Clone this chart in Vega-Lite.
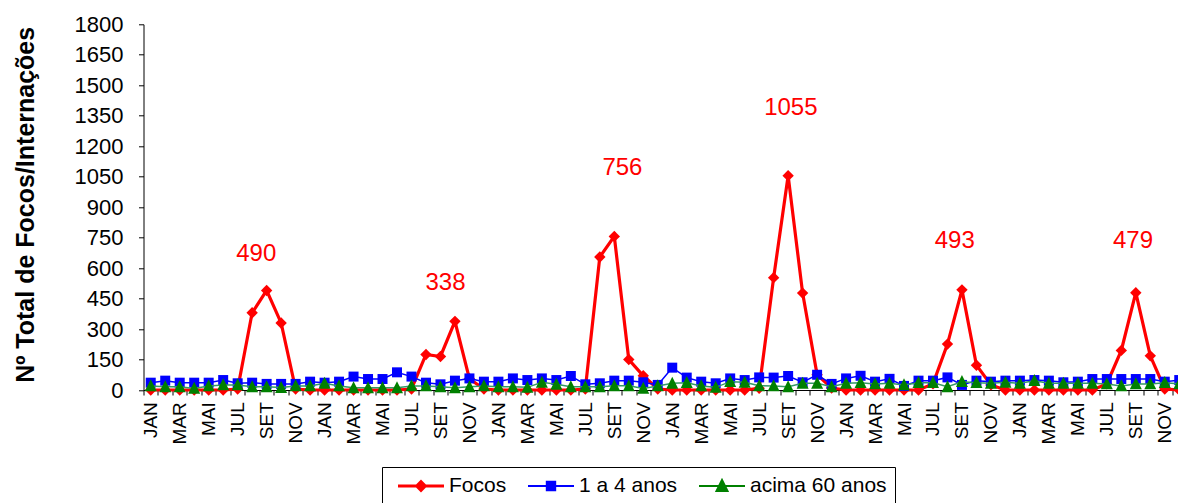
{
  "$schema": "https://vega.github.io/schema/vega-lite/v6.json",
  "width": 1034.5,
  "height": 365.7,
  "autosize": {"type": "none"},
  "padding": {"left": 143.5, "top": 24.3, "right": 0, "bottom": 113},
  "background": "white",
  "config": {
    "font": "Liberation Sans",
    "view": {"stroke": null},
    "axis": {"grid": false, "domainColor": "black", "tickColor": "black", "labelColor": "black", "titleColor": "black", "domainWidth": 1, "tickWidth": 1}
  },
  "datasets": {
    "mensal": [
      {"mes": "1-01-JAN", "Focos": 0, "1 a 4 anos": 36, "acima 60 anos": 20},
      {"mes": "1-02-FEV", "Focos": 0, "1 a 4 anos": 46, "acima 60 anos": 16},
      {"mes": "1-03-MAR", "Focos": 0, "1 a 4 anos": 36, "acima 60 anos": 16},
      {"mes": "1-04-ABR", "Focos": 0, "1 a 4 anos": 36, "acima 60 anos": 8},
      {"mes": "1-05-MAI", "Focos": 0, "1 a 4 anos": 36, "acima 60 anos": 20},
      {"mes": "1-06-JUN", "Focos": 0, "1 a 4 anos": 49, "acima 60 anos": 25},
      {"mes": "1-07-JUL", "Focos": 5, "1 a 4 anos": 33, "acima 60 anos": 25},
      {"mes": "1-08-AGO", "Focos": 380, "1 a 4 anos": 36, "acima 60 anos": 16},
      {"mes": "1-09-SET", "Focos": 490, "1 a 4 anos": 30, "acima 60 anos": 16},
      {"mes": "1-10-OUT", "Focos": 330, "1 a 4 anos": 30, "acima 60 anos": 12},
      {"mes": "1-11-NOV", "Focos": 5, "1 a 4 anos": 30, "acima 60 anos": 20},
      {"mes": "1-12-DEZ", "Focos": 0, "1 a 4 anos": 41, "acima 60 anos": 20},
      {"mes": "2-01-JAN", "Focos": 0, "1 a 4 anos": 36, "acima 60 anos": 33},
      {"mes": "2-02-FEV", "Focos": 0, "1 a 4 anos": 41, "acima 60 anos": 20},
      {"mes": "2-03-MAR", "Focos": 0, "1 a 4 anos": 66, "acima 60 anos": 11},
      {"mes": "2-04-ABR", "Focos": 0, "1 a 4 anos": 54, "acima 60 anos": 11},
      {"mes": "2-05-MAI", "Focos": 0, "1 a 4 anos": 54, "acima 60 anos": 11},
      {"mes": "2-06-JUN", "Focos": 0, "1 a 4 anos": 87, "acima 60 anos": 11},
      {"mes": "2-07-JUL", "Focos": 5, "1 a 4 anos": 66, "acima 60 anos": 20},
      {"mes": "2-08-AGO", "Focos": 175, "1 a 4 anos": 36, "acima 60 anos": 20},
      {"mes": "2-09-SET", "Focos": 165, "1 a 4 anos": 28, "acima 60 anos": 16},
      {"mes": "2-10-OUT", "Focos": 338, "1 a 4 anos": 46, "acima 60 anos": 11},
      {"mes": "2-11-NOV", "Focos": 55, "1 a 4 anos": 57, "acima 60 anos": 16},
      {"mes": "2-12-DEZ", "Focos": 5, "1 a 4 anos": 41, "acima 60 anos": 20},
      {"mes": "3-01-JAN", "Focos": 0, "1 a 4 anos": 41, "acima 60 anos": 16},
      {"mes": "3-02-FEV", "Focos": 0, "1 a 4 anos": 57, "acima 60 anos": 16},
      {"mes": "3-03-MAR", "Focos": 0, "1 a 4 anos": 49, "acima 60 anos": 13},
      {"mes": "3-04-ABR", "Focos": 0, "1 a 4 anos": 57, "acima 60 anos": 38},
      {"mes": "3-05-MAI", "Focos": 0, "1 a 4 anos": 49, "acima 60 anos": 28},
      {"mes": "3-06-JUN", "Focos": 0, "1 a 4 anos": 69, "acima 60 anos": 16},
      {"mes": "3-07-JUL", "Focos": 5, "1 a 4 anos": 28, "acima 60 anos": 16},
      {"mes": "3-08-AGO", "Focos": 655, "1 a 4 anos": 33, "acima 60 anos": 16},
      {"mes": "3-09-SET", "Focos": 756, "1 a 4 anos": 46, "acima 60 anos": 21},
      {"mes": "3-10-OUT", "Focos": 150, "1 a 4 anos": 46, "acima 60 anos": 21},
      {"mes": "3-11-NOV", "Focos": 70, "1 a 4 anos": 38, "acima 60 anos": 8},
      {"mes": "3-12-DEZ", "Focos": 5, "1 a 4 anos": 25, "acima 60 anos": 20},
      {"mes": "4-01-JAN", "Focos": 0, "1 a 4 anos": 110, "acima 60 anos": 33},
      {"mes": "4-02-FEV", "Focos": 0, "1 a 4 anos": 61, "acima 60 anos": 36},
      {"mes": "4-03-MAR", "Focos": 0, "1 a 4 anos": 41, "acima 60 anos": 20},
      {"mes": "4-04-ABR", "Focos": 0, "1 a 4 anos": 33, "acima 60 anos": 13},
      {"mes": "4-05-MAI", "Focos": 0, "1 a 4 anos": 57, "acima 60 anos": 41},
      {"mes": "4-06-JUN", "Focos": 0, "1 a 4 anos": 49, "acima 60 anos": 38},
      {"mes": "4-07-JUL", "Focos": 8, "1 a 4 anos": 62, "acima 60 anos": 21},
      {"mes": "4-08-AGO", "Focos": 553, "1 a 4 anos": 61, "acima 60 anos": 20},
      {"mes": "4-09-SET", "Focos": 1055, "1 a 4 anos": 69, "acima 60 anos": 16},
      {"mes": "4-10-OUT", "Focos": 477, "1 a 4 anos": 38, "acima 60 anos": 33},
      {"mes": "4-11-NOV", "Focos": 75, "1 a 4 anos": 75, "acima 60 anos": 33},
      {"mes": "4-12-DEZ", "Focos": 10, "1 a 4 anos": 30, "acima 60 anos": 16},
      {"mes": "5-01-JAN", "Focos": 0, "1 a 4 anos": 57, "acima 60 anos": 33},
      {"mes": "5-02-FEV", "Focos": 0, "1 a 4 anos": 70, "acima 60 anos": 36},
      {"mes": "5-03-MAR", "Focos": 0, "1 a 4 anos": 41, "acima 60 anos": 30},
      {"mes": "5-04-ABR", "Focos": 0, "1 a 4 anos": 55, "acima 60 anos": 33},
      {"mes": "5-05-MAI", "Focos": 0, "1 a 4 anos": 20, "acima 60 anos": 25},
      {"mes": "5-06-JUN", "Focos": 0, "1 a 4 anos": 46, "acima 60 anos": 36},
      {"mes": "5-07-JUL", "Focos": 30, "1 a 4 anos": 46, "acima 60 anos": 36},
      {"mes": "5-08-AGO", "Focos": 226, "1 a 4 anos": 62, "acima 60 anos": 16},
      {"mes": "5-09-SET", "Focos": 493, "1 a 4 anos": 25, "acima 60 anos": 41},
      {"mes": "5-10-OUT", "Focos": 122, "1 a 4 anos": 46, "acima 60 anos": 36},
      {"mes": "5-11-NOV", "Focos": 25, "1 a 4 anos": 41, "acima 60 anos": 33},
      {"mes": "5-12-DEZ", "Focos": 0, "1 a 4 anos": 46, "acima 60 anos": 38},
      {"mes": "6-01-JAN", "Focos": 0, "1 a 4 anos": 46, "acima 60 anos": 33},
      {"mes": "6-02-FEV", "Focos": 0, "1 a 4 anos": 49, "acima 60 anos": 46},
      {"mes": "6-03-MAR", "Focos": 0, "1 a 4 anos": 46, "acima 60 anos": 33},
      {"mes": "6-04-ABR", "Focos": 0, "1 a 4 anos": 38, "acima 60 anos": 33},
      {"mes": "6-05-MAI", "Focos": 0, "1 a 4 anos": 41, "acima 60 anos": 33},
      {"mes": "6-06-JUN", "Focos": 0, "1 a 4 anos": 54, "acima 60 anos": 33},
      {"mes": "6-07-JUL", "Focos": 30, "1 a 4 anos": 54, "acima 60 anos": 30},
      {"mes": "6-08-AGO", "Focos": 195, "1 a 4 anos": 54, "acima 60 anos": 20},
      {"mes": "6-09-SET", "Focos": 479, "1 a 4 anos": 54, "acima 60 anos": 30},
      {"mes": "6-10-OUT", "Focos": 168, "1 a 4 anos": 54, "acima 60 anos": 30},
      {"mes": "6-11-NOV", "Focos": 5, "1 a 4 anos": 41, "acima 60 anos": 36},
      {"mes": "6-12-DEZ", "Focos": 0, "1 a 4 anos": 49, "acima 60 anos": 30}
    ],
    "picos": [
      {"mes": "1-09-SET", "valor": 490},
      {"mes": "2-10-OUT", "valor": 338},
      {"mes": "3-09-SET", "valor": 756},
      {"mes": "4-09-SET", "valor": 1055},
      {"mes": "5-09-SET", "valor": 493},
      {"mes": "6-09-SET", "valor": 479}
    ]
  },
  "data": {"name": "mensal"},
  "transform": [{"fold": ["Focos", "1 a 4 anos", "acima 60 anos"], "as": ["serie", "valor"]}],
  "encoding": {
    "x": {
      "field": "mes",
      "type": "ordinal",
      "title": null,
      "scale": {"type": "band", "paddingInner": 0, "paddingOuter": 0, "range": [0, 1043]},
      "axis": {
        "tickBand": "extent",
        "labelAngle": -90,
        "labelFontSize": 19,
        "labelOverlap": false,
        "labelBound": false,
        "labelPadding": 6.7,
        "tickSize": 5,
        "labelExpr": "indexof(['JAN','MAR','MAI','JUL','SET','NOV'], split(datum.value,'-')[2]) >= 0 ? split(datum.value,'-')[2] : ''"
      }
    },
    "y": {
      "field": "valor",
      "type": "quantitative",
      "scale": {"domain": [0, 1800], "nice": false},
      "axis": {
        "values": [0, 150, 300, 450, 600, 750, 900, 1050, 1200, 1350, 1500, 1650, 1800],
        "format": "d",
        "title": "Nº Total de Focos/Internações",
        "titleFontSize": 25,
        "titleFontWeight": "bold",
        "titleX": -110.5,
        "titleY": 180,
        "titleAngle": -90,
        "titleAlign": "center",
        "titleBaseline": "alphabetic",
        "labelFontSize": 22,
        "labelPadding": 15.5,
        "tickSize": 5
      }
    }
  },
  "layer": [
    {
      "transform": [{"filter": "datum.serie === 'Focos'"}],
      "mark": {"type": "line", "color": "#ff0000", "strokeWidth": 3.2}
    },
    {
      "transform": [{"filter": "datum.serie === 'Focos'"}],
      "mark": {"type": "point", "filled": true, "shape": "diamond", "size": 130, "opacity": 1, "color": "#ff0000"}
    },
    {
      "transform": [{"filter": "datum.serie === '1 a 4 anos'"}],
      "mark": {"type": "line", "color": "#0000ff", "strokeWidth": 1.5}
    },
    {
      "transform": [{"filter": "datum.serie === '1 a 4 anos'"}],
      "mark": {"type": "point", "filled": true, "shape": "square", "size": 100, "opacity": 1, "color": "#0000ff"}
    },
    {
      "transform": [{"filter": "datum.serie === 'acima 60 anos'"}],
      "mark": {"type": "line", "color": "#339966", "strokeWidth": 1.5}
    },
    {
      "transform": [{"filter": "datum.serie === 'acima 60 anos'"}],
      "mark": {"type": "point", "filled": true, "shape": "M0,-1.1L1,0.9L-1,0.9Z", "size": 144, "opacity": 1, "color": "#008000"}
    },
    {
      "transform": [{"filter": "datum.mes === '1-01-JAN'"}],
      "mark": {"type": "point", "opacity": 0},
      "encoding": {
        "stroke": {
          "field": "serie",
          "type": "nominal",
          "scale": {"domain": ["Focos", "1 a 4 anos", "acima 60 anos"], "range": ["#ff0000", "#0000ff", "#008000"]},
          "legend": {
            "title": null,
            "orient": "none",
            "direction": "horizontal",
            "legendX": 238.5,
            "legendY": 442.7,
            "strokeColor": "black",
            "padding": 8,
            "columnPadding": 13,
            "symbolOffset": 20,
            "labelOffset": 17,
            "labelFontSize": 21,
            "labelColor": "black",
            "symbolSize": 400,
            "symbolStrokeWidth": 2,
            "symbolOpacity": 1
          }
        },
        "shape": {
          "field": "serie",
          "type": "nominal",
          "scale": {
            "domain": ["Focos", "1 a 4 anos", "acima 60 anos"],
            "range": [
              "M-2.3,-0.05L2.3,-0.05M-2.3,0.05L2.3,0.05M0,-0.5L0.5,0L0,0.5L-0.5,0ZM0,-0.3L0.3,0L0,0.3L-0.3,0ZM0,-0.1L0.1,0L0,0.1L-0.1,0Z",
              "M-2.3,0L2.3,0M-0.42,-0.42L0.42,-0.42L0.42,0.42L-0.42,0.42ZM-0.28,-0.28L0.28,-0.28L0.28,0.28L-0.28,0.28ZM-0.14,-0.14L0.14,-0.14L0.14,0.14L-0.14,0.14ZM-0.03,-0.03L0.03,-0.03L0.03,0.03L-0.03,0.03Z",
              "M-2.3,0L2.3,0M0,-0.6L0.55,0.5L-0.55,0.5ZM0,-0.35L0.363,0.374L-0.363,0.374ZM0,-0.11L0.18,0.252L-0.18,0.252ZM0,0.08L0.04,0.16L-0.04,0.16Z"
            ]
          }
        }
      }
    },
    {
      "data": {"name": "picos"},
      "transform": [{"filter": "datum.valor === 490"}],
      "mark": {"type": "text", "color": "#ff0000", "fontSize": 24, "baseline": "middle", "dx": -10.4, "dy": -36.2},
      "encoding": {"text": {"field": "valor", "type": "quantitative", "format": "d"}}
    },
    {
      "data": {"name": "picos"},
      "transform": [{"filter": "datum.valor === 338"}],
      "mark": {"type": "text", "color": "#ff0000", "fontSize": 24, "baseline": "middle", "dx": -9.5, "dy": -38.8},
      "encoding": {"text": {"field": "valor", "type": "quantitative", "format": "d"}}
    },
    {
      "data": {"name": "picos"},
      "transform": [{"filter": "datum.valor === 756"}],
      "mark": {"type": "text", "color": "#ff0000", "fontSize": 24, "baseline": "middle", "dx": 8.1, "dy": -68.1},
      "encoding": {"text": {"field": "valor", "type": "quantitative", "format": "d"}}
    },
    {
      "data": {"name": "picos"},
      "transform": [{"filter": "datum.valor === 1055"}],
      "mark": {"type": "text", "color": "#ff0000", "fontSize": 24, "baseline": "middle", "dx": 2.7, "dy": -67.4},
      "encoding": {"text": {"field": "valor", "type": "quantitative", "format": "d"}}
    },
    {
      "data": {"name": "picos"},
      "transform": [{"filter": "datum.valor === 493"}],
      "mark": {"type": "text", "color": "#ff0000", "fontSize": 24, "baseline": "middle", "dx": -7.2, "dy": -48.6},
      "encoding": {"text": {"field": "valor", "type": "quantitative", "format": "d"}}
    },
    {
      "data": {"name": "picos"},
      "transform": [{"filter": "datum.valor === 479"}],
      "mark": {"type": "text", "color": "#ff0000", "fontSize": 24, "baseline": "middle", "dx": -2.8, "dy": -51.5},
      "encoding": {"text": {"field": "valor", "type": "quantitative", "format": "d"}}
    }
  ]
}
